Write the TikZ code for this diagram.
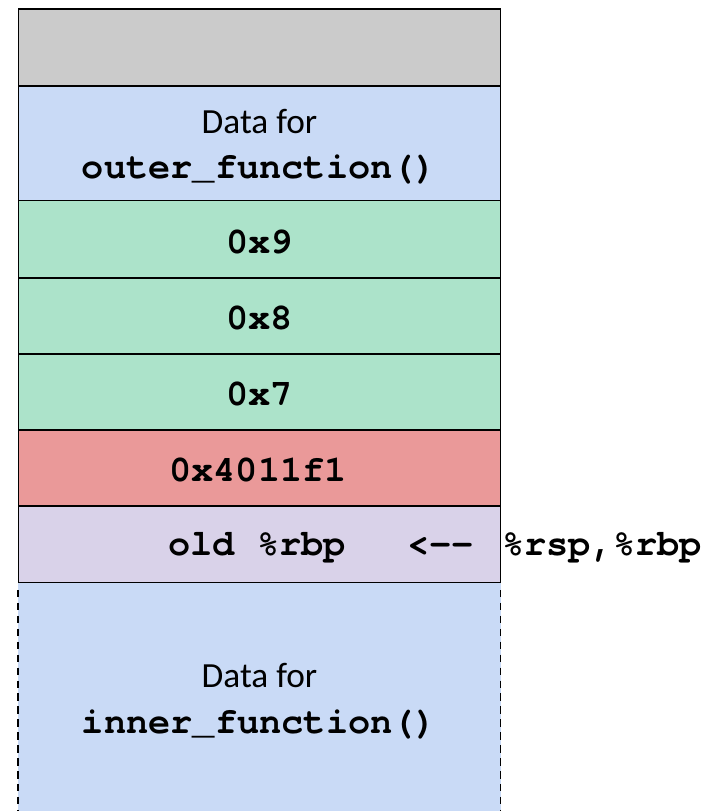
\documentclass[tikz,border=0pt]{standalone}
\usepackage{fontspec}
\setmainfont{Carlito}
\newfontfamily\codefont{texgyrecursor-bold.otf}
\begin{document}
\begin{tikzpicture}[x=0.75pt,y=-0.75pt,
  cellline/.style={draw=black,line width=1.15pt},
  frameedge/.style={draw=black,line width=1.3pt,dash pattern=on 5.6pt off 4.1pt},
  code/.style={font=\codefont\fontsize{27.75pt}{30pt}\selectfont,inner sep=0pt},
  plain/.style={font=\fontsize{26.5pt}{30pt}\selectfont,inner sep=0pt}]
\definecolor{slotgray}{HTML}{CBCBCB}
\definecolor{frameblue}{HTML}{C9DAF6}
\definecolor{argsgreen}{HTML}{ACE3CA}
\definecolor{retred}{HTML}{EA9999}
\definecolor{savedpurple}{HTML}{D9D2E9}
\useasboundingbox (0,0) rectangle (723,811);

% frame of the callee, open at the bottom
\fill[frameblue] (18.3,583) rectangle (500.6,811);
\draw[frameedge] (18.3,590) -- (18.3,811);
\draw[frameedge] (500.6,590) -- (500.6,811);

% stack slots, top to bottom
\filldraw[cellline,fill=slotgray]    (18.3,9)     rectangle (500.6,86);
\filldraw[cellline,fill=frameblue]   (18.3,86)    rectangle (500.6,200.5);
\filldraw[cellline,fill=argsgreen]   (18.3,200.5) rectangle (500.6,278);
\filldraw[cellline,fill=argsgreen]   (18.3,278)   rectangle (500.6,354);
\filldraw[cellline,fill=argsgreen]   (18.3,354)   rectangle (500.6,430);
\filldraw[cellline,fill=retred]      (18.3,430)   rectangle (500.6,506);
\filldraw[cellline,fill=savedpurple] (18.3,506)   rectangle (500.6,582.5);

% labels
\node[plain,anchor=base] (outerA) at (259.5,133.3) {Data for};
\node[code,anchor=base]  (outerB) at (259.5,178) {outer\_function()};
\node[code,anchor=base]  (arg9)   at (259.5,253) {0x9};
\node[code,anchor=base]  (arg8)   at (259.5,329) {0x8};
\node[code,anchor=base]  (arg7)   at (259.5,405) {0x7};
\node[code,anchor=base]  (ret)    at (258,481.5) {0x4011f1};
\node[code,anchor=base west] (oldbp)  at (168,555) {old \%rbp};
\node[code,anchor=base east] (ptr)    at (474,555) {<{-}{-}};
\node[code,anchor=base west] (regs)   at (502,555) {\%rsp,\%rbp};
\node[plain,anchor=base] (innerA) at (259.5,687) {Data for};
\node[code,anchor=base]  (innerB) at (259.5,733) {inner\_function()};
\end{tikzpicture}
\end{document}
